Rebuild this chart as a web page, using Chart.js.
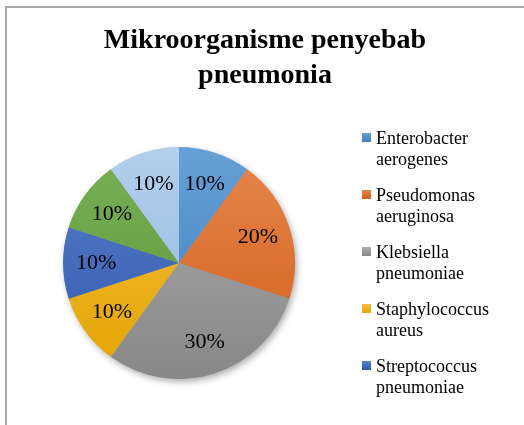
<!DOCTYPE html>
<html>
<head>
<meta charset="utf-8">
<script src="https://cdn.jsdelivr.net/npm/chart.js@4/dist/chart.umd.min.js"></script>
<style>
  html, body { margin:0; padding:0; width:524px; height:425px; overflow:hidden; background:#fff; }
  #frame { position:absolute; left:5px; top:6px; width:600px; height:500px; border:2px solid #a9a9a9; box-sizing:border-box; }
  #wrap { position:absolute; left:0; top:0; width:524px; height:425px; }
  #title { position:absolute; left:0; width:530px; top:21px; text-align:center; font-family:"Liberation Serif","Times New Roman",serif; font-weight:bold; font-size:28px; line-height:35px; color:#000; }
  #legend { position:absolute; left:362px; top:128px; font-family:"Liberation Serif","Times New Roman",serif; font-size:18px; line-height:21px; color:#000; }
  .item { position:relative; padding-left:14px; margin-bottom:15px; }
  .sw { position:absolute; left:0; top:5px; width:9px; height:9px; }
</style>
</head>
<body>
<div id="frame"></div>
<div id="wrap"><canvas id="c" width="524" height="425"></canvas></div>
<div id="title">Mikroorganisme penyebab<br>pneumonia</div>
<div id="legend"></div>
<script>
const titleText = "Mikroorganisme penyebab pneumonia";
const categories = ["Enterobacter aerogenes", "Pseudomonas aeruginosa", "Klebsiella pneumoniae", "Staphylococcus aureus", "Streptococcus pneumoniae", "Escherichia coli", "Acinetobacter baumannii"];
const values = [10, 20, 30, 10, 10, 10, 10];
const legendShown = 5;
const colorsTop = ["#66a0d6", "#e8864c", "#adadad", "#f4bf42", "#5a80c9", "#7ab157", "#b2cfec"];
const colorsBottom = ["#3f7cbd", "#cf5e1a", "#878787", "#e3a400", "#2f58ad", "#5a9335", "#92b7df"];

// HTML legend (first entries visible, as in the reference)
const lg = document.getElementById('legend');
categories.slice(0, legendShown).forEach((name, i) => {
  const d = document.createElement('div');
  d.className = 'item';
  const parts = name.split(' ');
  d.innerHTML = '<span class="sw" style="background:' + colorsTop[i] + ';background:linear-gradient(' + colorsTop[i] + ',' + colorsBottom[i] + ')"></span>' + parts[0] + '<br>' + parts.slice(1).join(' ');
  lg.appendChild(d);
});

const total = values.reduce((a, b) => a + b, 0);

const shadowPlugin = {
  id: 'pieShadow',
  beforeDatasetsDraw(chart) {
    const arc = chart.getDatasetMeta(0).data[0];
    if (!arc) return;
    const p = arc.getProps(['x', 'y', 'outerRadius'], true);
    const ctx = chart.ctx;
    ctx.save();
    ctx.shadowColor = 'rgba(0,0,0,0.35)';
    ctx.shadowBlur = 7;
    ctx.shadowOffsetX = 2;
    ctx.shadowOffsetY = 3;
    ctx.fillStyle = '#999';
    ctx.beginPath();
    ctx.arc(p.x, p.y, p.outerRadius - 0.5, 0, Math.PI * 2);
    ctx.fill();
    ctx.restore();
  }
};

const labelPlugin = {
  id: 'sliceLabels',
  afterDatasetsDraw(chart) {
    const ctx = chart.ctx;
    const meta = chart.getDatasetMeta(0);
    ctx.save();
    ctx.font = '22px "Liberation Serif", "Times New Roman", serif';
    ctx.fillStyle = '#000';
    ctx.textAlign = 'center';
    ctx.textBaseline = 'middle';
    meta.data.forEach((arc, i) => {
      const p = arc.getProps(['x', 'y', 'startAngle', 'endAngle', 'outerRadius'], true);
      const mid = (p.startAngle + p.endAngle) / 2;
      const r = p.outerRadius * 0.715;
      const txt = Math.round(values[i] / total * 100) + '%';
      ctx.fillText(txt, p.x + Math.cos(mid) * r, p.y + Math.sin(mid) * r);
    });
    ctx.restore();
  }
};

new Chart(document.getElementById('c'), {
  type: 'pie',
  data: {
    labels: categories,
    datasets: [{
      data: values,
      borderWidth: 0,
      backgroundColor: (ctx) => {
        const ca = ctx.chart.chartArea;
        const i = ctx.dataIndex;
        if (!ca) return colorsTop[i];
        const g = ctx.chart.ctx.createLinearGradient(0, ca.top, 0, ca.bottom);
        g.addColorStop(0, colorsTop[i]);
        g.addColorStop(1, colorsBottom[i]);
        return g;
      }
    }]
  },
  options: {
    responsive: false,
    animation: false,
    layout: { padding: { left: 63, right: 229, top: 147, bottom: 46 } },
    plugins: {
      legend: { display: false },
      title: { display: false, text: titleText },
      tooltip: { enabled: false }
    }
  },
  plugins: [shadowPlugin, labelPlugin]
});
</script>
</body>
</html>
